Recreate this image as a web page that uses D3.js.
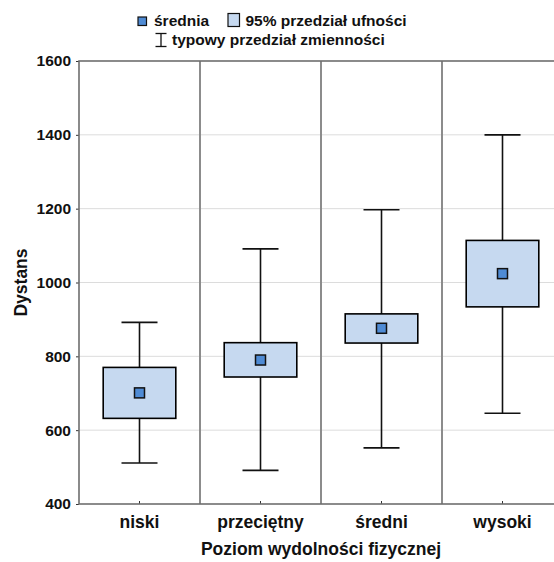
<!DOCTYPE html>
<html><head><meta charset="utf-8">
<script src="https://cdn.jsdelivr.net/npm/d3@7"></script>
<style>body{margin:0;background:#fff}svg{display:block;font-family:"Liberation Sans",Arial,sans-serif}</style>
</head><body><svg id="c" width="554" height="562"></svg>
<script>
const categories = ["niski","przeciętny","średni","wysoki"];
const means      = [701, 790, 876, 1024];
const ciLow      = [632, 744, 836, 934];
const ciHigh     = [770, 837, 915, 1114];
const sdLow      = [511, 491, 552, 646];
const sdHigh     = [892, 1091, 1197, 1400];
const yTicks     = [400, 600, 800, 1000, 1200, 1400, 1600];

const FONT = "Liberation Sans, Arial, sans-serif";
const svg = d3.select("#c");
const L = 79, R = 563, T = 61, B = 504;
const x = d3.scaleBand().domain(categories).range([L, R]).padding(0);
const y = d3.scaleLinear().domain([400, 1600]).range([B, T]);
const data = categories.map((c,i)=>({c, m:means[i], lo:ciLow[i], hi:ciHigh[i], sl:sdLow[i], sh:sdHigh[i]}));

// grid
svg.append("g").selectAll("line").data(yTicks.slice(1,-1)).join("line")
  .attr("x1", L).attr("x2", R).attr("y1", d=>y(d)).attr("y2", d=>y(d))
  .attr("stroke", "#dcdcdc").attr("stroke-width", 1);

// category separators
svg.append("g").selectAll("line").data(categories.slice(1)).join("line")
  .attr("x1", d=>x(d)).attr("x2", d=>x(d)).attr("y1", T).attr("y2", B)
  .attr("stroke", "#8c8c8c").attr("stroke-width", 2);

// y axis
const ya = svg.append("g").attr("transform", `translate(${L},0)`)
  .call(d3.axisLeft(y).tickValues(yTicks).tickSize(3).tickPadding(5).tickFormat(d3.format("d")));
ya.select(".domain").remove();
ya.selectAll("text").attr("font-size", 15.5).attr("font-weight", "bold").attr("fill", "#111").attr("font-family", FONT);
ya.selectAll("line").attr("stroke", "#333");

// x axis
const xa = svg.append("g").attr("transform", `translate(0,${B})`)
  .call(d3.axisBottom(x).tickSize(-3).tickPadding(0));
xa.select(".domain").remove();
xa.selectAll("text").attr("y", 24).attr("dy", null).attr("font-size", 17.5).attr("font-weight", "bold").attr("fill", "#111").attr("font-family", FONT);
xa.selectAll("line").attr("stroke", "#333");

// frame
svg.append("rect").attr("x", L).attr("y", T).attr("width", R-L).attr("height", B-T)
  .attr("fill", "none").attr("stroke", "#6e6e6e").attr("stroke-width", 1.6);

const bw = x.bandwidth();
const g = svg.append("g").selectAll("g").data(data).join("g")
  .attr("transform", d=>`translate(${x(d.c)+bw/2},0)`);
// whiskers
g.append("line").attr("x1",0).attr("x2",0).attr("y1",d=>y(d.sl)).attr("y2",d=>y(d.sh)).attr("stroke","#111").attr("stroke-width",1.6);
g.append("line").attr("x1",-18).attr("x2",18).attr("y1",d=>y(d.sh)).attr("y2",d=>y(d.sh)).attr("stroke","#111").attr("stroke-width",1.6);
g.append("line").attr("x1",-18).attr("x2",18).attr("y1",d=>y(d.sl)).attr("y2",d=>y(d.sl)).attr("stroke","#111").attr("stroke-width",1.6);
// CI boxes
g.append("rect").attr("x",-bw*0.3).attr("width",bw*0.6).attr("y",d=>y(d.hi)).attr("height",d=>y(d.lo)-y(d.hi))
  .attr("fill","#c6d9f0").attr("stroke","#000").attr("stroke-width",1.6);
// means
g.append("rect").attr("x",-5).attr("width",10).attr("y",d=>y(d.m)-5).attr("height",10)
  .attr("fill","#4f8bd4").attr("stroke","#111").attr("stroke-width",1.5);

// axis titles
svg.append("text").attr("x", (L+R)/2).attr("y", 555).attr("text-anchor","middle")
  .attr("font-size",17.5).attr("font-weight","bold").attr("fill","#111").text("Poziom wydolności fizycznej");
svg.append("text").attr("transform", `translate(27,${(T+B)/2}) rotate(-90)`).attr("text-anchor","middle")
  .attr("font-size",17.5).attr("font-weight","bold").attr("fill","#111").text("Dystans");

// legend
const lg = svg.append("g").attr("font-size",15.5).attr("font-weight","bold").attr("fill","#111");
lg.append("rect").attr("x",138).attr("y",17).attr("width",8.5).attr("height",8.5).attr("fill","#4f8bd4").attr("stroke","#111").attr("stroke-width",1.2);
lg.append("text").attr("x",154).attr("y",26).text("średnia");
lg.append("rect").attr("x",228).attr("y",13.5).attr("width",11.5).attr("height",13).attr("fill","#c6d9f0").attr("stroke","#111").attr("stroke-width",1.2);
lg.append("text").attr("x",245.5).attr("y",26).text("95% przedział ufności");
lg.append("line").attr("x1",161).attr("x2",161).attr("y1",33.5).attr("y2",46.5).attr("stroke","#111").attr("stroke-width",1.3);
lg.append("line").attr("x1",155.5).attr("x2",166.5).attr("y1",33.5).attr("y2",33.5).attr("stroke","#111").attr("stroke-width",1.3);
lg.append("line").attr("x1",155.5).attr("x2",166.5).attr("y1",46.5).attr("y2",46.5).attr("stroke","#111").attr("stroke-width",1.3);
lg.append("text").attr("x",172).attr("y",45).text("typowy przedział zmienności");
</script></body></html>
